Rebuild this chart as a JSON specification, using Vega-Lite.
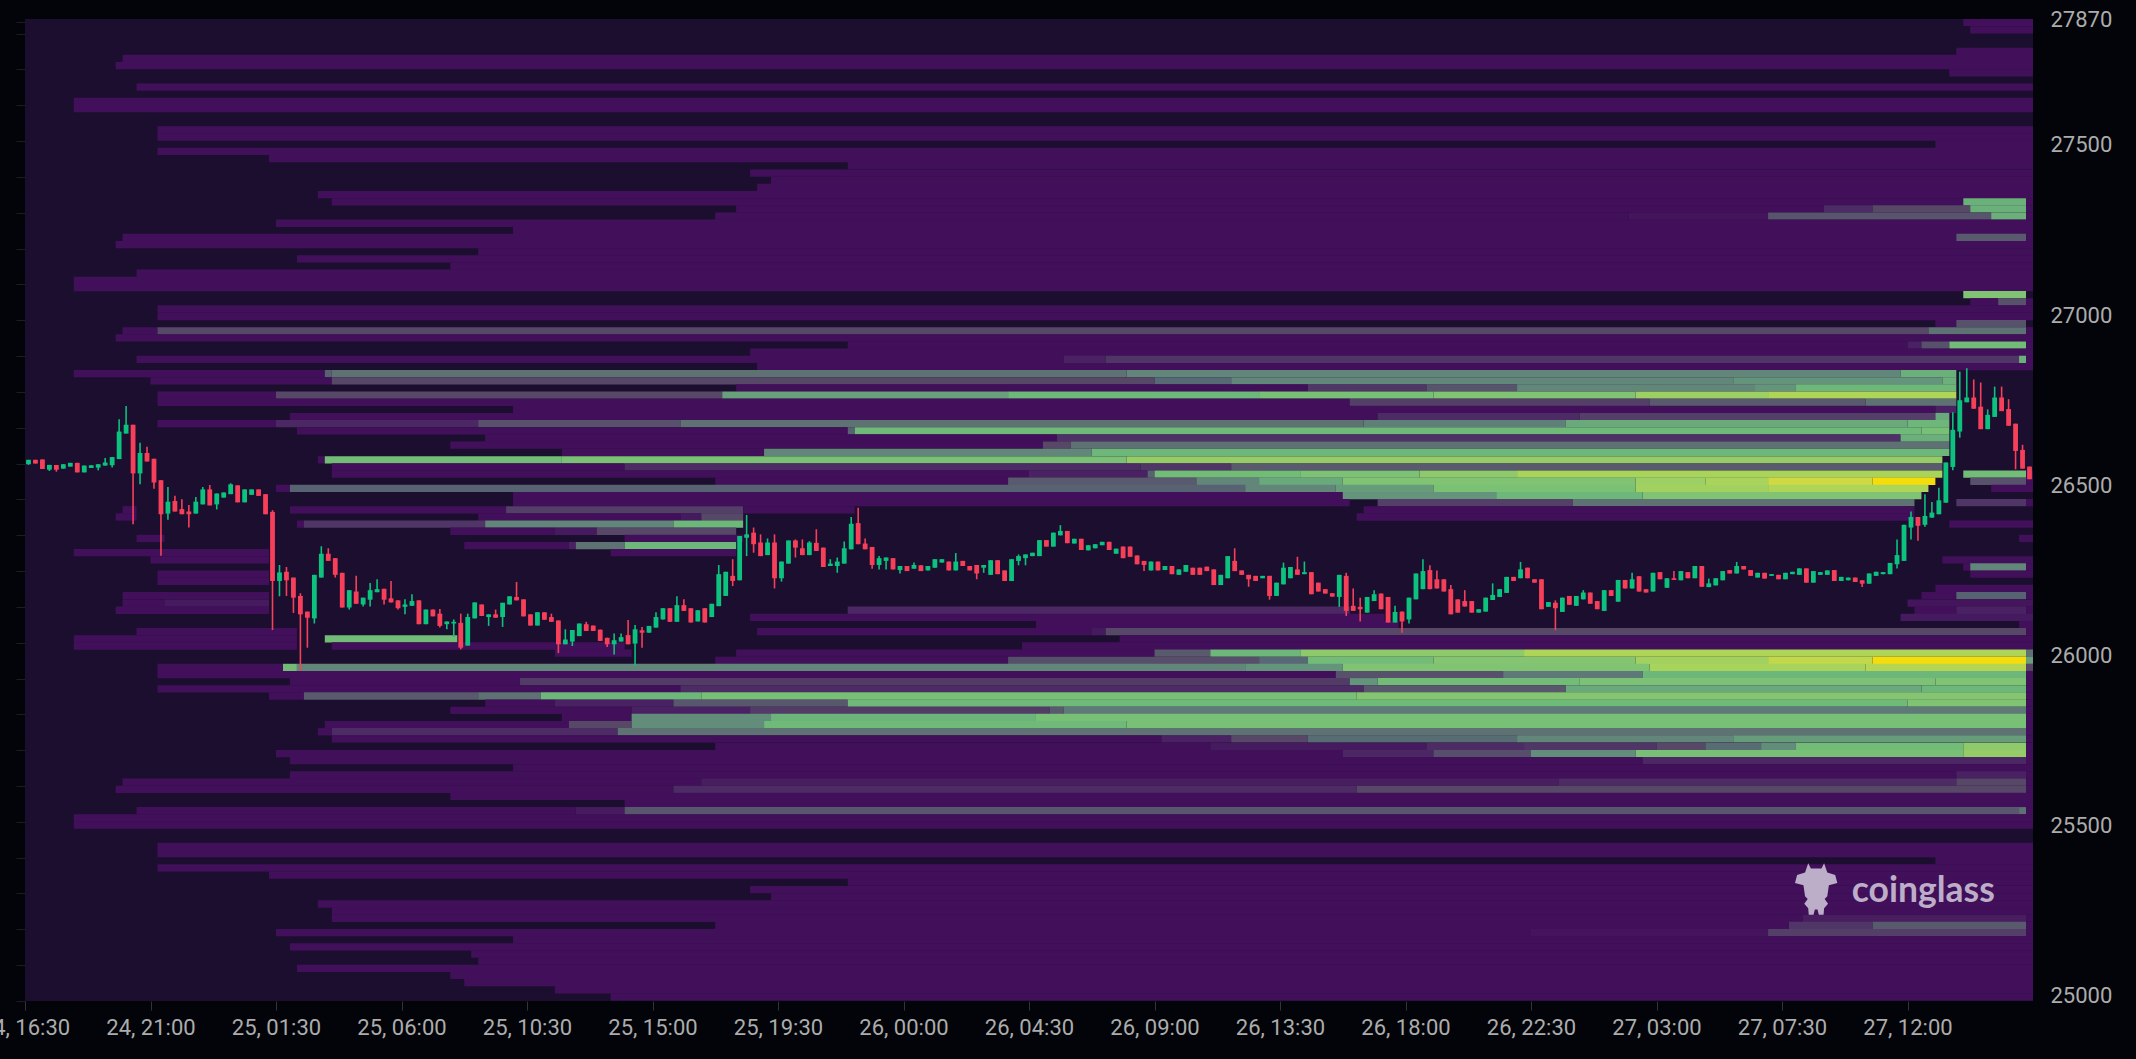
{"$schema":"https://vega.github.io/schema/vega-lite/v6.json","width":2008,"height":982,"autosize":{"type":"none"},"padding":{"left":25,"top":19,"right":103,"bottom":58},"background":"#020409","view":{"fill":"#1c0e2e","stroke":null},
"datasets":{"heat":[
{"p":27860,"a":278,"b":288,"v":10},{"p":27838,"a":279,"b":288,"v":10},{"p":27775,"a":277,"b":288,"v":10},{"p":27754,"a":14,"b":288,"v":10},{"p":27733,"a":13,"b":288,"v":10},{"p":27712,"a":276,"b":288,"v":10},{"p":27670,"a":16,"b":288,"v":10},{"p":27628,"a":7,"b":288,"v":10},{"p":27607,"a":7,"b":288,"v":10},{"p":27544,"a":19,"b":288,"v":10},{"p":27523,"a":19,"b":288,"v":10},{"p":27502,"a":274,"b":288,"v":10},{"p":27481,"a":19,"b":288,"v":10},{"p":27460,"a":35,"b":288,"v":10},{"p":27439,"a":118,"b":288,"v":10},{"p":27417,"a":104,"b":288,"v":10},{"p":27396,"a":107,"b":288,"v":10},{"p":27375,"a":105,"b":288,"v":10},{"p":27354,"a":42,"b":288,"v":10},
{"p":27333,"a":44,"b":278,"v":10},{"p":27333,"a":278,"b":287,"v":50},{"p":27333,"a":287,"b":288,"v":10},
{"p":27312,"a":102,"b":258,"v":10},{"p":27312,"a":258,"b":265,"v":16},{"p":27312,"a":265,"b":279,"v":22},{"p":27312,"a":279,"b":287,"v":50},{"p":27312,"a":287,"b":288,"v":10},
{"p":27291,"a":99,"b":230,"v":10},{"p":27291,"a":230,"b":250,"v":11},{"p":27291,"a":250,"b":282,"v":26},{"p":27291,"a":282,"b":287,"v":50},{"p":27291,"a":287,"b":288,"v":10},
{"p":27270,"a":36,"b":288,"v":10},{"p":27249,"a":70,"b":288,"v":10},
{"p":27228,"a":14,"b":277,"v":10},{"p":27228,"a":277,"b":287,"v":28},{"p":27228,"a":287,"b":288,"v":10},
{"p":27207,"a":13,"b":288,"v":10},{"p":27186,"a":65,"b":288,"v":10},{"p":27165,"a":39,"b":288,"v":10},{"p":27144,"a":61,"b":288,"v":10},{"p":27123,"a":16,"b":288,"v":10},{"p":27102,"a":7,"b":288,"v":10},{"p":27081,"a":7,"b":288,"v":10},
{"p":27060,"a":278,"b":287,"v":62},
{"p":27039,"a":279,"b":283,"v":10},{"p":27039,"a":283,"b":287,"v":25},{"p":27039,"a":287,"b":288,"v":10},
{"p":27018,"a":19,"b":288,"v":10},{"p":26996,"a":19,"b":288,"v":10},
{"p":26975,"a":274,"b":277,"v":10},{"p":26975,"a":277,"b":287,"v":25},
{"p":26954,"a":14,"b":19,"v":10},{"p":26954,"a":19,"b":273,"v":22},{"p":26954,"a":273,"b":287,"v":35},{"p":26954,"a":287,"b":288,"v":10},
{"p":26933,"a":13,"b":288,"v":10},
{"p":26912,"a":118,"b":270,"v":10},{"p":26912,"a":270,"b":272,"v":14},{"p":26912,"a":272,"b":276,"v":25},{"p":26912,"a":276,"b":287,"v":55},{"p":26912,"a":287,"b":288,"v":10},
{"p":26891,"a":104,"b":288,"v":10},
{"p":26870,"a":16,"b":149,"v":10},{"p":26870,"a":149,"b":155,"v":14},{"p":26870,"a":155,"b":286,"v":18},{"p":26870,"a":286,"b":287,"v":50},{"p":26870,"a":287,"b":288,"v":10},
{"p":26849,"a":105,"b":288,"v":10},
{"p":26828,"a":7,"b":43,"v":10},{"p":26828,"a":43,"b":44,"v":30},{"p":26828,"a":44,"b":158,"v":35},{"p":26828,"a":158,"b":269,"v":38},{"p":26828,"a":269,"b":277,"v":50},
{"p":26807,"a":18,"b":44,"v":10},{"p":26807,"a":44,"b":162,"v":22},{"p":26807,"a":162,"b":173,"v":32},{"p":26807,"a":173,"b":245,"v":38},{"p":26807,"a":245,"b":275,"v":42},{"p":26807,"a":275,"b":277,"v":50},
{"p":26786,"a":102,"b":184,"v":10},{"p":26786,"a":184,"b":201,"v":18},{"p":26786,"a":201,"b":214,"v":26},{"p":26786,"a":214,"b":248,"v":38},{"p":26786,"a":248,"b":254,"v":42},{"p":26786,"a":254,"b":277,"v":52},
{"p":26765,"a":19,"b":36,"v":10},{"p":26765,"a":36,"b":100,"v":22},{"p":26765,"a":100,"b":141,"v":45},{"p":26765,"a":141,"b":177,"v":52},{"p":26765,"a":177,"b":202,"v":58},{"p":26765,"a":202,"b":231,"v":62},{"p":26765,"a":231,"b":250,"v":72},{"p":26765,"a":250,"b":277,"v":80},
{"p":26744,"a":19,"b":190,"v":10},{"p":26744,"a":190,"b":233,"v":20},{"p":26744,"a":233,"b":264,"v":28},{"p":26744,"a":264,"b":277,"v":35},
{"p":26723,"a":70,"b":274,"v":10},{"p":26723,"a":274,"b":277,"v":14},
{"p":26702,"a":38,"b":194,"v":10},{"p":26702,"a":194,"b":223,"v":16},{"p":26702,"a":223,"b":274,"v":20},{"p":26702,"a":274,"b":276,"v":48},
{"p":26681,"a":19,"b":36,"v":10},{"p":26681,"a":36,"b":65,"v":15},{"p":26681,"a":65,"b":94,"v":25},{"p":26681,"a":94,"b":192,"v":35},{"p":26681,"a":192,"b":221,"v":37},{"p":26681,"a":221,"b":270,"v":48},{"p":26681,"a":270,"b":276,"v":52},
{"p":26660,"a":39,"b":118,"v":10},{"p":26660,"a":118,"b":119,"v":30},{"p":26660,"a":119,"b":272,"v":54},{"p":26660,"a":272,"b":276,"v":58},
{"p":26639,"a":66,"b":148,"v":10},{"p":26639,"a":148,"b":269,"v":17},{"p":26639,"a":269,"b":276,"v":50},
{"p":26618,"a":61,"b":146,"v":10},{"p":26618,"a":146,"b":150,"v":22},{"p":26618,"a":150,"b":276,"v":35},
{"p":26597,"a":77,"b":106,"v":10},{"p":26597,"a":106,"b":153,"v":38},{"p":26597,"a":153,"b":276,"v":52},
{"p":26575,"a":42,"b":43,"v":10},{"p":26575,"a":43,"b":77,"v":55},{"p":26575,"a":77,"b":158,"v":59},{"p":26575,"a":158,"b":275,"v":70},
{"p":26554,"a":44,"b":86,"v":10},{"p":26554,"a":86,"b":160,"v":16},{"p":26554,"a":160,"b":173,"v":18},{"p":26554,"a":173,"b":275,"v":28},
{"p":26533,"a":44,"b":144,"v":10},{"p":26533,"a":144,"b":161,"v":14},{"p":26533,"a":161,"b":162,"v":30},{"p":26533,"a":162,"b":183,"v":55},{"p":26533,"a":183,"b":200,"v":60},{"p":26533,"a":200,"b":214,"v":68},{"p":26533,"a":214,"b":275,"v":78},{"p":26533,"a":278,"b":287,"v":55},{"p":26533,"a":287,"b":288,"v":10},
{"p":26512,"a":99,"b":141,"v":10},{"p":26512,"a":141,"b":168,"v":28},{"p":26512,"a":168,"b":177,"v":38},{"p":26512,"a":177,"b":189,"v":48},{"p":26512,"a":189,"b":231,"v":62},{"p":26512,"a":231,"b":241,"v":72},{"p":26512,"a":241,"b":250,"v":78},{"p":26512,"a":250,"b":265,"v":88},{"p":26512,"a":265,"b":274,"v":100},{"p":26512,"a":279,"b":287,"v":25},{"p":26512,"a":287,"b":288,"v":10},
{"p":26491,"a":36,"b":38,"v":10},{"p":26491,"a":38,"b":175,"v":30},{"p":26491,"a":175,"b":188,"v":38},{"p":26491,"a":188,"b":202,"v":44},{"p":26491,"a":202,"b":231,"v":59},{"p":26491,"a":231,"b":250,"v":75},{"p":26491,"a":250,"b":273,"v":80},{"p":26491,"a":282,"b":288,"v":10},
{"p":26470,"a":70,"b":189,"v":10},{"p":26470,"a":189,"b":211,"v":42},{"p":26470,"a":211,"b":232,"v":52},{"p":26470,"a":232,"b":272,"v":62},
{"p":26449,"a":70,"b":190,"v":10},{"p":26449,"a":194,"b":222,"v":20},{"p":26449,"a":222,"b":271,"v":35},{"p":26449,"a":277,"b":287,"v":18},{"p":26449,"a":287,"b":288,"v":10},
{"p":26428,"a":14,"b":16,"v":10},{"p":26428,"a":38,"b":69,"v":10},{"p":26428,"a":69,"b":103,"v":20},{"p":26428,"a":103,"b":119,"v":10},{"p":26428,"a":192,"b":271,"v":10},
{"p":26407,"a":13,"b":16,"v":10},{"p":26407,"a":65,"b":94,"v":10},{"p":26407,"a":94,"b":97,"v":12},{"p":26407,"a":97,"b":103,"v":22},{"p":26407,"a":191,"b":271,"v":10},
{"p":26386,"a":39,"b":40,"v":10},{"p":26386,"a":40,"b":66,"v":18},{"p":26386,"a":66,"b":93,"v":38},{"p":26386,"a":93,"b":103,"v":52},{"p":26386,"a":276,"b":288,"v":10},
{"p":26365,"a":61,"b":76,"v":10},{"p":26365,"a":76,"b":82,"v":12},{"p":26365,"a":82,"b":102,"v":22},
{"p":26344,"a":16,"b":20,"v":10},{"p":26344,"a":86,"b":103,"v":10},{"p":26344,"a":286,"b":288,"v":10},
{"p":26323,"a":63,"b":78,"v":10},{"p":26323,"a":78,"b":79,"v":14},{"p":26323,"a":79,"b":86,"v":35},{"p":26323,"a":86,"b":102,"v":52},
{"p":26302,"a":7,"b":35,"v":10},{"p":26302,"a":84,"b":102,"v":10},
{"p":26281,"a":18,"b":35,"v":10},{"p":26281,"a":275,"b":288,"v":10},
{"p":26260,"a":278,"b":279,"v":10},{"p":26260,"a":279,"b":287,"v":38},{"p":26260,"a":287,"b":288,"v":10},
{"p":26239,"a":19,"b":35,"v":10},{"p":26239,"a":279,"b":288,"v":10},
{"p":26218,"a":19,"b":35,"v":10},
{"p":26197,"a":274,"b":288,"v":10},
{"p":26176,"a":14,"b":35,"v":10},{"p":26176,"a":272,"b":277,"v":10},{"p":26176,"a":277,"b":287,"v":30},{"p":26176,"a":287,"b":288,"v":10},
{"p":26154,"a":14,"b":20,"v":10},{"p":26154,"a":20,"b":35,"v":12},{"p":26154,"a":270,"b":288,"v":11},
{"p":26133,"a":13,"b":35,"v":10},{"p":26133,"a":118,"b":190,"v":15},{"p":26133,"a":271,"b":277,"v":10},{"p":26133,"a":277,"b":287,"v":14},{"p":26133,"a":287,"b":288,"v":10},
{"p":26112,"a":104,"b":195,"v":10},{"p":26112,"a":269,"b":288,"v":12},
{"p":26091,"a":145,"b":197,"v":10},{"p":26091,"a":286,"b":288,"v":10},
{"p":26070,"a":16,"b":39,"v":10},{"p":26070,"a":105,"b":153,"v":10},{"p":26070,"a":153,"b":155,"v":12},{"p":26070,"a":155,"b":287,"v":22},{"p":26070,"a":287,"b":288,"v":10},
{"p":26049,"a":7,"b":39,"v":10},{"p":26049,"a":43,"b":62,"v":55},{"p":26049,"a":157,"b":288,"v":10},
{"p":26028,"a":7,"b":39,"v":10},{"p":26028,"a":44,"b":86,"v":10},{"p":26028,"a":143,"b":288,"v":10},
{"p":26007,"a":76,"b":87,"v":10},{"p":26007,"a":102,"b":162,"v":10},{"p":26007,"a":162,"b":170,"v":28},{"p":26007,"a":170,"b":183,"v":52},{"p":26007,"a":183,"b":215,"v":68},{"p":26007,"a":215,"b":287,"v":80},{"p":26007,"a":287,"b":288,"v":35},
{"p":25986,"a":99,"b":141,"v":10},{"p":25986,"a":141,"b":177,"v":24},{"p":25986,"a":177,"b":184,"v":32},{"p":25986,"a":184,"b":202,"v":55},{"p":25986,"a":202,"b":231,"v":65},{"p":25986,"a":231,"b":250,"v":75},{"p":25986,"a":250,"b":265,"v":85},{"p":25986,"a":265,"b":287,"v":100},{"p":25986,"a":287,"b":288,"v":45},
{"p":25965,"a":19,"b":37,"v":10},{"p":25965,"a":37,"b":39,"v":55},{"p":25965,"a":39,"b":175,"v":38},{"p":25965,"a":175,"b":189,"v":42},{"p":25965,"a":189,"b":233,"v":62},{"p":25965,"a":233,"b":264,"v":78},{"p":25965,"a":264,"b":287,"v":82},{"p":25965,"a":287,"b":288,"v":22},
{"p":25944,"a":19,"b":188,"v":10},{"p":25944,"a":188,"b":212,"v":25},{"p":25944,"a":212,"b":232,"v":36},{"p":25944,"a":232,"b":287,"v":52},{"p":25944,"a":287,"b":288,"v":10},
{"p":25923,"a":38,"b":71,"v":10},{"p":25923,"a":71,"b":190,"v":19},{"p":25923,"a":190,"b":194,"v":42},{"p":25923,"a":194,"b":223,"v":55},{"p":25923,"a":223,"b":274,"v":60},{"p":25923,"a":274,"b":287,"v":62},{"p":25923,"a":287,"b":288,"v":10},
{"p":25902,"a":19,"b":94,"v":10},{"p":25902,"a":94,"b":192,"v":16},{"p":25902,"a":192,"b":221,"v":27},{"p":25902,"a":221,"b":272,"v":48},{"p":25902,"a":272,"b":287,"v":52},{"p":25902,"a":287,"b":288,"v":10},
{"p":25881,"a":35,"b":40,"v":10},{"p":25881,"a":40,"b":65,"v":28},{"p":25881,"a":65,"b":74,"v":35},{"p":25881,"a":74,"b":97,"v":52},{"p":25881,"a":97,"b":191,"v":58},{"p":25881,"a":191,"b":287,"v":65},{"p":25881,"a":287,"b":288,"v":10},
{"p":25860,"a":66,"b":76,"v":10},{"p":25860,"a":76,"b":93,"v":14},{"p":25860,"a":93,"b":118,"v":27},{"p":25860,"a":118,"b":270,"v":54},{"p":25860,"a":270,"b":287,"v":62},{"p":25860,"a":287,"b":288,"v":10},
{"p":25839,"a":61,"b":87,"v":10},{"p":25839,"a":87,"b":104,"v":14},{"p":25839,"a":104,"b":147,"v":19},{"p":25839,"a":147,"b":149,"v":28},{"p":25839,"a":149,"b":287,"v":36},{"p":25839,"a":287,"b":288,"v":10},
{"p":25818,"a":77,"b":87,"v":10},{"p":25818,"a":87,"b":107,"v":40},{"p":25818,"a":107,"b":145,"v":51},{"p":25818,"a":145,"b":287,"v":58},{"p":25818,"a":287,"b":288,"v":10},
{"p":25797,"a":43,"b":78,"v":10},{"p":25797,"a":78,"b":87,"v":22},{"p":25797,"a":87,"b":106,"v":40},{"p":25797,"a":106,"b":158,"v":54},{"p":25797,"a":158,"b":287,"v":58},{"p":25797,"a":287,"b":288,"v":10},
{"p":25776,"a":42,"b":44,"v":10},{"p":25776,"a":44,"b":85,"v":16},{"p":25776,"a":85,"b":287,"v":35},{"p":25776,"a":287,"b":288,"v":10},
{"p":25755,"a":44,"b":163,"v":10},{"p":25755,"a":163,"b":173,"v":14},{"p":25755,"a":173,"b":184,"v":22},{"p":25755,"a":184,"b":214,"v":33},{"p":25755,"a":214,"b":245,"v":38},{"p":25755,"a":245,"b":287,"v":44},{"p":25755,"a":287,"b":288,"v":10},
{"p":25733,"a":99,"b":170,"v":10},{"p":25733,"a":170,"b":201,"v":12},{"p":25733,"a":201,"b":215,"v":16},{"p":25733,"a":215,"b":234,"v":18},{"p":25733,"a":234,"b":241,"v":22},{"p":25733,"a":241,"b":249,"v":33},{"p":25733,"a":249,"b":254,"v":40},{"p":25733,"a":254,"b":278,"v":55},{"p":25733,"a":278,"b":287,"v":68},{"p":25733,"a":287,"b":288,"v":10},
{"p":25712,"a":36,"b":189,"v":10},{"p":25712,"a":189,"b":202,"v":15},{"p":25712,"a":202,"b":216,"v":24},{"p":25712,"a":216,"b":231,"v":40},{"p":25712,"a":231,"b":278,"v":58},{"p":25712,"a":278,"b":287,"v":70},{"p":25712,"a":287,"b":288,"v":10},
{"p":25691,"a":38,"b":232,"v":10},{"p":25691,"a":232,"b":287,"v":15},{"p":25691,"a":287,"b":288,"v":10},
{"p":25670,"a":70,"b":288,"v":10},
{"p":25649,"a":38,"b":277,"v":10},{"p":25649,"a":277,"b":287,"v":14},{"p":25649,"a":287,"b":288,"v":10},
{"p":25628,"a":14,"b":97,"v":10},{"p":25628,"a":97,"b":220,"v":13},{"p":25628,"a":220,"b":277,"v":16},{"p":25628,"a":277,"b":287,"v":22},{"p":25628,"a":287,"b":288,"v":10},
{"p":25607,"a":13,"b":93,"v":10},{"p":25607,"a":93,"b":191,"v":16},{"p":25607,"a":191,"b":287,"v":22},{"p":25607,"a":287,"b":288,"v":10},
{"p":25586,"a":61,"b":288,"v":10},{"p":25565,"a":86,"b":288,"v":10},
{"p":25544,"a":16,"b":79,"v":10},{"p":25544,"a":79,"b":86,"v":12},{"p":25544,"a":86,"b":286,"v":27},{"p":25544,"a":286,"b":287,"v":35},{"p":25544,"a":287,"b":288,"v":10},
{"p":25523,"a":7,"b":288,"v":10},{"p":25502,"a":7,"b":288,"v":10},
{"p":25439,"a":19,"b":288,"v":10},{"p":25418,"a":19,"b":288,"v":10},{"p":25397,"a":274,"b":288,"v":10},{"p":25376,"a":19,"b":288,"v":10},{"p":25355,"a":35,"b":288,"v":10},{"p":25334,"a":118,"b":288,"v":10},{"p":25312,"a":104,"b":288,"v":10},{"p":25291,"a":107,"b":288,"v":10},{"p":25270,"a":42,"b":288,"v":10},{"p":25249,"a":44,"b":288,"v":10},
{"p":25228,"a":44,"b":255,"v":10},{"p":25228,"a":255,"b":287,"v":13},{"p":25228,"a":287,"b":288,"v":10},
{"p":25207,"a":99,"b":253,"v":10},{"p":25207,"a":253,"b":265,"v":18},{"p":25207,"a":265,"b":287,"v":28},{"p":25207,"a":287,"b":288,"v":10},
{"p":25186,"a":36,"b":216,"v":10},{"p":25186,"a":216,"b":250,"v":11},{"p":25186,"a":250,"b":287,"v":20},{"p":25186,"a":287,"b":288,"v":10},
{"p":25165,"a":70,"b":288,"v":10},{"p":25144,"a":38,"b":288,"v":10},{"p":25123,"a":64,"b":288,"v":10},{"p":25102,"a":65,"b":288,"v":10},{"p":25081,"a":39,"b":288,"v":10},{"p":25060,"a":61,"b":288,"v":10},{"p":25039,"a":63,"b":288,"v":10},{"p":25018,"a":76,"b":288,"v":10},{"p":24997,"a":84,"b":288,"v":10}
],
"candles":[
{"c":0.5,"o":26562,"e":26575,"h":26575,"l":26560},{"c":1.5,"o":26575,"e":26564,"h":26575,"l":26564},{"c":2.5,"o":26576,"e":26548,"h":26576,"l":26548},{"c":3.5,"o":26546,"e":26560,"h":26560,"l":26542},{"c":4.5,"o":26560,"e":26546,"h":26560,"l":26540},{"c":5.5,"o":26549,"e":26562,"h":26562,"l":26549},{"c":6.5,"o":26555,"e":26566,"h":26566,"l":26555},{"c":7.5,"o":26566,"e":26538,"h":26566,"l":26538},{"c":8.5,"o":26538,"e":26558,"h":26558,"l":26538},{"c":9.5,"o":26551,"e":26559,"h":26559,"l":26551},
{"c":10.5,"o":26552,"e":26562,"h":26562,"l":26544},{"c":11.5,"o":26558,"e":26567,"h":26580,"l":26558},{"c":12.5,"o":26559,"e":26583,"h":26583,"l":26552},{"c":13.5,"o":26577,"e":26658,"h":26694,"l":26577},{"c":14.5,"o":26652,"e":26678,"h":26733,"l":26652},{"c":15.5,"o":26678,"e":26535,"h":26678,"l":26386},{"c":16.5,"o":26535,"e":26595,"h":26625,"l":26503},{"c":17.5,"o":26595,"e":26570,"h":26613,"l":26570},{"c":18.5,"o":26578,"e":26508,"h":26578,"l":26490},{"c":19.5,"o":26515,"e":26415,"h":26515,"l":26293},
{"c":20.5,"o":26417,"e":26452,"h":26495,"l":26399},{"c":21.5,"o":26454,"e":26423,"h":26469,"l":26423},{"c":22.5,"o":26430,"e":26415,"h":26459,"l":26415},{"c":23.5,"o":26423,"e":26415,"h":26442,"l":26376},{"c":24.5,"o":26417,"e":26452,"h":26466,"l":26417},{"c":25.5,"o":26444,"e":26488,"h":26495,"l":26444},{"c":26.5,"o":26488,"e":26441,"h":26501,"l":26441},{"c":27.5,"o":26444,"e":26476,"h":26476,"l":26429},{"c":28.5,"o":26464,"e":26479,"h":26479,"l":26464},{"c":29.5,"o":26474,"e":26503,"h":26506,"l":26474},
{"c":30.5,"o":26500,"e":26450,"h":26500,"l":26450},{"c":31.5,"o":26450,"e":26488,"h":26488,"l":26450},{"c":32.5,"o":26472,"e":26488,"h":26488,"l":26472},{"c":33.5,"o":26488,"e":26469,"h":26488,"l":26469},{"c":34.5,"o":26474,"e":26415,"h":26474,"l":26415},{"c":35.5,"o":26422,"e":26219,"h":26427,"l":26075},{"c":36.5,"o":26219,"e":26244,"h":26266,"l":26174},{"c":37.5,"o":26246,"e":26221,"h":26260,"l":26175},{"c":38.5,"o":26229,"e":26170,"h":26229,"l":26125},{"c":39.5,"o":26175,"e":26121,"h":26183,"l":25956},
{"c":40.5,"o":26129,"e":26111,"h":26129,"l":26023},{"c":41.5,"o":26109,"e":26237,"h":26237,"l":26094},{"c":42.5,"o":26229,"e":26299,"h":26321,"l":26229},{"c":43.5,"o":26299,"e":26278,"h":26315,"l":26278},{"c":44.5,"o":26286,"e":26237,"h":26286,"l":26229},{"c":45.5,"o":26243,"e":26141,"h":26243,"l":26141},{"c":46.5,"o":26141,"e":26192,"h":26192,"l":26135},{"c":47.5,"o":26188,"e":26152,"h":26234,"l":26152},{"c":48.5,"o":26150,"e":26170,"h":26170,"l":26144},{"c":49.5,"o":26164,"e":26192,"h":26213,"l":26144},
{"c":50.5,"o":26186,"e":26195,"h":26224,"l":26186},{"c":51.5,"o":26196,"e":26164,"h":26196,"l":26150},{"c":52.5,"o":26168,"e":26156,"h":26219,"l":26156},{"c":53.5,"o":26162,"e":26139,"h":26162,"l":26135},{"c":54.5,"o":26143,"e":26150,"h":26165,"l":26121},{"c":55.5,"o":26146,"e":26160,"h":26180,"l":26146},{"c":56.5,"o":26162,"e":26092,"h":26162,"l":26092},{"c":57.5,"o":26092,"e":26135,"h":26135,"l":26092},{"c":58.5,"o":26135,"e":26115,"h":26135,"l":26115},{"c":59.5,"o":26123,"e":26087,"h":26137,"l":26082},
{"c":60.5,"o":26092,"e":26100,"h":26100,"l":26077},{"c":61.5,"o":26094,"e":26099,"h":26106,"l":26054},{"c":62.5,"o":26096,"e":26023,"h":26123,"l":26018},{"c":63.5,"o":26029,"e":26113,"h":26123,"l":26029},{"c":64.5,"o":26109,"e":26156,"h":26156,"l":26109},{"c":65.5,"o":26150,"e":26116,"h":26150,"l":26116},{"c":66.5,"o":26113,"e":26121,"h":26121,"l":26087},{"c":67.5,"o":26121,"e":26111,"h":26135,"l":26111},{"c":68.5,"o":26113,"e":26155,"h":26155,"l":26084},{"c":69.5,"o":26150,"e":26174,"h":26174,"l":26150},
{"c":70.5,"o":26172,"e":26162,"h":26216,"l":26162},{"c":71.5,"o":26165,"e":26115,"h":26165,"l":26115},{"c":72.5,"o":26121,"e":26088,"h":26121,"l":26088},{"c":73.5,"o":26088,"e":26127,"h":26127,"l":26088},{"c":74.5,"o":26127,"e":26105,"h":26127,"l":26105},{"c":75.5,"o":26113,"e":26099,"h":26123,"l":26099},{"c":76.5,"o":26103,"e":26033,"h":26103,"l":26007},{"c":77.5,"o":26033,"e":26047,"h":26077,"l":26033},{"c":78.5,"o":26041,"e":26075,"h":26075,"l":26028},{"c":79.5,"o":26057,"e":26094,"h":26094,"l":26057},
{"c":80.5,"o":26092,"e":26072,"h":26099,"l":26072},{"c":81.5,"o":26088,"e":26072,"h":26088,"l":26072},{"c":82.5,"o":26076,"e":26043,"h":26076,"l":26043},{"c":83.5,"o":26052,"e":26033,"h":26052,"l":26025},{"c":84.5,"o":26033,"e":26045,"h":26065,"l":26003},{"c":85.5,"o":26041,"e":26054,"h":26065,"l":26041},{"c":86.5,"o":26060,"e":26033,"h":26104,"l":26033},{"c":87.5,"o":26035,"e":26077,"h":26090,"l":25969},{"c":88.5,"o":26074,"e":26067,"h":26084,"l":26023},{"c":89.5,"o":26067,"e":26087,"h":26087,"l":26067},
{"c":90.5,"o":26082,"e":26113,"h":26127,"l":26082},{"c":91.5,"o":26106,"e":26139,"h":26139,"l":26106},{"c":92.5,"o":26139,"e":26099,"h":26139,"l":26099},{"c":93.5,"o":26099,"e":26148,"h":26174,"l":26099},{"c":94.5,"o":26148,"e":26131,"h":26165,"l":26131},{"c":95.5,"o":26139,"e":26097,"h":26139,"l":26097},{"c":96.5,"o":26100,"e":26133,"h":26133,"l":26100},{"c":97.5,"o":26139,"e":26097,"h":26139,"l":26097},{"c":98.5,"o":26113,"e":26152,"h":26152,"l":26113},{"c":99.5,"o":26145,"e":26239,"h":26266,"l":26145},
{"c":100.5,"o":26175,"e":26246,"h":26246,"l":26175},{"c":101.5,"o":26234,"e":26219,"h":26283,"l":26204},{"c":102.5,"o":26221,"e":26351,"h":26351,"l":26221},{"c":103.5,"o":26346,"e":26356,"h":26413,"l":26292},{"c":104.5,"o":26361,"e":26327,"h":26376,"l":26302},{"c":105.5,"o":26332,"e":26292,"h":26356,"l":26292},{"c":106.5,"o":26295,"e":26332,"h":26344,"l":26295},{"c":107.5,"o":26332,"e":26227,"h":26356,"l":26197},{"c":108.5,"o":26227,"e":26276,"h":26276,"l":26217},{"c":109.5,"o":26270,"e":26338,"h":26338,"l":26270},
{"c":110.5,"o":26338,"e":26317,"h":26341,"l":26288},{"c":111.5,"o":26315,"e":26295,"h":26341,"l":26295},{"c":112.5,"o":26295,"e":26332,"h":26336,"l":26295},{"c":113.5,"o":26331,"e":26307,"h":26371,"l":26307},{"c":114.5,"o":26317,"e":26260,"h":26317,"l":26260},{"c":115.5,"o":26263,"e":26270,"h":26283,"l":26263},{"c":116.5,"o":26263,"e":26276,"h":26288,"l":26243},{"c":117.5,"o":26270,"e":26315,"h":26335,"l":26270},{"c":118.5,"o":26312,"e":26387,"h":26407,"l":26312},{"c":119.5,"o":26389,"e":26327,"h":26434,"l":26327},
{"c":120.5,"o":26329,"e":26312,"h":26344,"l":26312},{"c":121.5,"o":26319,"e":26266,"h":26319,"l":26255},{"c":122.5,"o":26266,"e":26286,"h":26292,"l":26253},{"c":123.5,"o":26278,"e":26288,"h":26288,"l":26253},{"c":124.5,"o":26286,"e":26253,"h":26286,"l":26253},{"c":125.5,"o":26251,"e":26263,"h":26263,"l":26241},{"c":126.5,"o":26263,"e":26248,"h":26263,"l":26248},{"c":127.5,"o":26255,"e":26266,"h":26273,"l":26255},{"c":128.5,"o":26265,"e":26248,"h":26265,"l":26248},{"c":129.5,"o":26250,"e":26263,"h":26263,"l":26250},
{"c":130.5,"o":26258,"e":26283,"h":26283,"l":26258},{"c":131.5,"o":26273,"e":26283,"h":26283,"l":26273},{"c":132.5,"o":26276,"e":26250,"h":26276,"l":26250},{"c":133.5,"o":26250,"e":26276,"h":26301,"l":26250},{"c":134.5,"o":26278,"e":26263,"h":26278,"l":26263},{"c":135.5,"o":26263,"e":26250,"h":26263,"l":26250},{"c":136.5,"o":26266,"e":26241,"h":26266,"l":26224},{"c":137.5,"o":26258,"e":26266,"h":26266,"l":26243},{"c":138.5,"o":26237,"e":26280,"h":26280,"l":26237},{"c":139.5,"o":26280,"e":26239,"h":26280,"l":26239},
{"c":140.5,"o":26250,"e":26219,"h":26250,"l":26219},{"c":141.5,"o":26219,"e":26283,"h":26283,"l":26219},{"c":142.5,"o":26278,"e":26292,"h":26297,"l":26265},{"c":143.5,"o":26286,"e":26297,"h":26297,"l":26265},{"c":144.5,"o":26292,"e":26302,"h":26302,"l":26292},{"c":145.5,"o":26292,"e":26339,"h":26339,"l":26292},{"c":146.5,"o":26339,"e":26320,"h":26339,"l":26320},{"c":147.5,"o":26320,"e":26361,"h":26361,"l":26320},{"c":148.5,"o":26353,"e":26366,"h":26383,"l":26353},{"c":149.5,"o":26366,"e":26330,"h":26366,"l":26330},
{"c":150.5,"o":26329,"e":26343,"h":26343,"l":26329},{"c":151.5,"o":26343,"e":26310,"h":26343,"l":26310},{"c":152.5,"o":26309,"e":26324,"h":26324,"l":26309},{"c":153.5,"o":26315,"e":26327,"h":26327,"l":26315},{"c":154.5,"o":26324,"e":26334,"h":26334,"l":26324},{"c":155.5,"o":26334,"e":26310,"h":26334,"l":26310},{"c":156.5,"o":26299,"e":26314,"h":26314,"l":26299},{"c":157.5,"o":26320,"e":26286,"h":26320,"l":26286},{"c":158.5,"o":26320,"e":26290,"h":26320,"l":26290},{"c":159.5,"o":26294,"e":26268,"h":26294,"l":26268},
{"c":160.5,"o":26278,"e":26266,"h":26278,"l":26248},{"c":161.5,"o":26250,"e":26276,"h":26276,"l":26250},{"c":162.5,"o":26276,"e":26250,"h":26276,"l":26250},{"c":163.5,"o":26251,"e":26263,"h":26263,"l":26251},{"c":164.5,"o":26263,"e":26239,"h":26263,"l":26239},{"c":165.5,"o":26237,"e":26253,"h":26253,"l":26237},{"c":166.5,"o":26246,"e":26266,"h":26266,"l":26246},{"c":167.5,"o":26258,"e":26237,"h":26258,"l":26237},{"c":168.5,"o":26258,"e":26237,"h":26258,"l":26237},{"c":169.5,"o":26261,"e":26248,"h":26261,"l":26248},
{"c":170.5,"o":26253,"e":26207,"h":26253,"l":26207},{"c":171.5,"o":26207,"e":26237,"h":26237,"l":26207},{"c":172.5,"o":26227,"e":26292,"h":26292,"l":26227},{"c":173.5,"o":26278,"e":26248,"h":26315,"l":26248},{"c":174.5,"o":26250,"e":26237,"h":26250,"l":26237},{"c":175.5,"o":26237,"e":26224,"h":26237,"l":26202},{"c":176.5,"o":26234,"e":26219,"h":26234,"l":26219},{"c":177.5,"o":26227,"e":26234,"h":26234,"l":26227},{"c":178.5,"o":26234,"e":26175,"h":26234,"l":26164},{"c":179.5,"o":26175,"e":26214,"h":26214,"l":26175},
{"c":180.5,"o":26209,"e":26258,"h":26273,"l":26209},{"c":181.5,"o":26227,"e":26260,"h":26260,"l":26227},{"c":182.5,"o":26253,"e":26237,"h":26290,"l":26237},{"c":183.5,"o":26239,"e":26245,"h":26276,"l":26239},{"c":184.5,"o":26245,"e":26180,"h":26245,"l":26180},{"c":185.5,"o":26214,"e":26188,"h":26214,"l":26188},{"c":186.5,"o":26195,"e":26182,"h":26195,"l":26182},{"c":187.5,"o":26183,"e":26173,"h":26183,"l":26173},{"c":188.5,"o":26172,"e":26237,"h":26237,"l":26143},{"c":189.5,"o":26234,"e":26131,"h":26243,"l":26116},
{"c":190.5,"o":26146,"e":26131,"h":26197,"l":26131},{"c":191.5,"o":26143,"e":26136,"h":26170,"l":26100},{"c":192.5,"o":26126,"e":26172,"h":26172,"l":26126},{"c":193.5,"o":26160,"e":26180,"h":26192,"l":26160},{"c":194.5,"o":26182,"e":26136,"h":26182,"l":26136},{"c":195.5,"o":26172,"e":26097,"h":26172,"l":26097},{"c":196.5,"o":26097,"e":26128,"h":26146,"l":26097},{"c":197.5,"o":26129,"e":26100,"h":26129,"l":26067},{"c":198.5,"o":26106,"e":26170,"h":26170,"l":26094},{"c":199.5,"o":26165,"e":26241,"h":26241,"l":26165},
{"c":200.5,"o":26195,"e":26248,"h":26283,"l":26195},{"c":201.5,"o":26251,"e":26195,"h":26265,"l":26195},{"c":202.5,"o":26224,"e":26197,"h":26250,"l":26197},{"c":203.5,"o":26224,"e":26188,"h":26224,"l":26188},{"c":204.5,"o":26195,"e":26121,"h":26207,"l":26121},{"c":205.5,"o":26165,"e":26126,"h":26165,"l":26126},{"c":206.5,"o":26160,"e":26144,"h":26192,"l":26144},{"c":207.5,"o":26160,"e":26126,"h":26160,"l":26126},{"c":208.5,"o":26126,"e":26136,"h":26136,"l":26126},{"c":209.5,"o":26129,"e":26170,"h":26170,"l":26129},
{"c":210.5,"o":26163,"e":26178,"h":26212,"l":26163},{"c":211.5,"o":26172,"e":26195,"h":26195,"l":26172},{"c":212.5,"o":26184,"e":26231,"h":26231,"l":26184},{"c":213.5,"o":26231,"e":26219,"h":26231,"l":26219},{"c":214.5,"o":26227,"e":26253,"h":26275,"l":26227},{"c":215.5,"o":26258,"e":26227,"h":26258,"l":26227},{"c":216.5,"o":26224,"e":26214,"h":26224,"l":26214},{"c":217.5,"o":26224,"e":26136,"h":26224,"l":26136},{"c":218.5,"o":26143,"e":26157,"h":26157,"l":26143},{"c":219.5,"o":26155,"e":26139,"h":26162,"l":26074},
{"c":220.5,"o":26128,"e":26170,"h":26170,"l":26128},{"c":221.5,"o":26175,"e":26149,"h":26175,"l":26149},{"c":222.5,"o":26146,"e":26175,"h":26175,"l":26146},{"c":223.5,"o":26165,"e":26185,"h":26192,"l":26165},{"c":224.5,"o":26185,"e":26152,"h":26185,"l":26152},{"c":225.5,"o":26160,"e":26136,"h":26160,"l":26136},{"c":226.5,"o":26131,"e":26192,"h":26192,"l":26131},{"c":227.5,"o":26192,"e":26175,"h":26192,"l":26175},{"c":228.5,"o":26158,"e":26222,"h":26222,"l":26158},{"c":229.5,"o":26222,"e":26197,"h":26222,"l":26197},
{"c":230.5,"o":26197,"e":26224,"h":26243,"l":26197},{"c":231.5,"o":26233,"e":26188,"h":26233,"l":26188},{"c":232.5,"o":26195,"e":26185,"h":26195,"l":26185},{"c":233.5,"o":26188,"e":26243,"h":26243,"l":26188},{"c":234.5,"o":26245,"e":26224,"h":26245,"l":26224},{"c":235.5,"o":26199,"e":26227,"h":26227,"l":26199},{"c":236.5,"o":26227,"e":26222,"h":26248,"l":26222},{"c":237.5,"o":26221,"e":26248,"h":26248,"l":26221},{"c":238.5,"o":26245,"e":26227,"h":26245,"l":26227},{"c":239.5,"o":26227,"e":26263,"h":26263,"l":26227},
{"c":240.5,"o":26263,"e":26202,"h":26263,"l":26202},{"c":241.5,"o":26201,"e":26212,"h":26226,"l":26201},{"c":242.5,"o":26206,"e":26227,"h":26227,"l":26206},{"c":243.5,"o":26221,"e":26248,"h":26248,"l":26221},{"c":244.5,"o":26251,"e":26241,"h":26251,"l":26241},{"c":245.5,"o":26241,"e":26263,"h":26275,"l":26241},{"c":246.5,"o":26263,"e":26253,"h":26263,"l":26253},{"c":247.5,"o":26251,"e":26234,"h":26251,"l":26234},{"c":248.5,"o":26229,"e":26243,"h":26243,"l":26229},{"c":249.5,"o":26243,"e":26226,"h":26243,"l":26226},
{"c":250.5,"o":26234,"e":26239,"h":26239,"l":26234},{"c":251.5,"o":26237,"e":26224,"h":26237,"l":26224},{"c":252.5,"o":26224,"e":26243,"h":26243,"l":26224},{"c":253.5,"o":26239,"e":26246,"h":26246,"l":26239},{"c":254.5,"o":26237,"e":26256,"h":26256,"l":26237},{"c":255.5,"o":26256,"e":26214,"h":26256,"l":26214},{"c":256.5,"o":26214,"e":26248,"h":26248,"l":26214},{"c":257.5,"o":26237,"e":26245,"h":26245,"l":26237},{"c":258.5,"o":26237,"e":26250,"h":26250,"l":26237},{"c":259.5,"o":26251,"e":26219,"h":26251,"l":26219},
{"c":260.5,"o":26219,"e":26231,"h":26231,"l":26219},{"c":261.5,"o":26221,"e":26229,"h":26229,"l":26221},{"c":262.5,"o":26229,"e":26216,"h":26229,"l":26216},{"c":263.5,"o":26221,"e":26211,"h":26221,"l":26201},{"c":264.5,"o":26211,"e":26241,"h":26241,"l":26211},{"c":265.5,"o":26234,"e":26246,"h":26246,"l":26234},{"c":266.5,"o":26239,"e":26245,"h":26245,"l":26239},{"c":267.5,"o":26239,"e":26272,"h":26272,"l":26239},{"c":268.5,"o":26268,"e":26295,"h":26341,"l":26256},{"c":269.5,"o":26278,"e":26384,"h":26384,"l":26278},
{"c":270.5,"o":26376,"e":26407,"h":26423,"l":26341},{"c":271.5,"o":26407,"e":26381,"h":26407,"l":26337},{"c":272.5,"o":26384,"e":26410,"h":26474,"l":26378},{"c":273.5,"o":26405,"e":26420,"h":26451,"l":26405},{"c":274.5,"o":26415,"e":26456,"h":26493,"l":26415},{"c":275.5,"o":26449,"e":26567,"h":26567,"l":26449},{"c":276.5,"o":26554,"e":26663,"h":26715,"l":26544},{"c":277.5,"o":26658,"e":26750,"h":26834,"l":26640},{"c":278.5,"o":26744,"e":26758,"h":26844,"l":26744},{"c":279.5,"o":26758,"e":26725,"h":26811,"l":26725},
{"c":280.5,"o":26731,"e":26665,"h":26802,"l":26665},{"c":281.5,"o":26665,"e":26707,"h":26723,"l":26665},{"c":282.5,"o":26701,"e":26758,"h":26790,"l":26701},{"c":283.5,"o":26758,"e":26718,"h":26790,"l":26718},{"c":284.5,"o":26724,"e":26675,"h":26753,"l":26675},{"c":285.5,"o":26681,"e":26601,"h":26681,"l":26547},{"c":286.5,"o":26604,"e":26549,"h":26619,"l":26549},{"c":287.5,"o":26555,"e":26518,"h":26555,"l":26518}
],
"brand":[{"t":"coinglass","c":262,"p":25309}],
"logo":[{"c":256.9,"p":25316}]},
"layer":[
{"data":{"name":"heat"},"mark":{"type":"rect","height":7.3,"clip":true},"encoding":{
"x":{"field":"a","type":"quantitative","scale":{"domain":[0,288],"nice":false,"zero":false},"axis":{"values":[0,18,36,54,72,90,108,126,144,162,180,198,216,234,252,270],"title":null,"grid":false,"domain":false,"tickColor":"#33333a","tickSize":9,"labelColor":"#acacac","labelFont":"Roboto","labelFontSize":22,"labelPadding":7,"labelExpr":"utcFormat(datum.value*900000+1695573000000,'%d, %H:%M')","labelOverlap":false,"labelBound":false,"labelFlush":false}},
"x2":{"field":"b"},
"y":{"field":"p","type":"quantitative","scale":{"domain":[24985,27870],"nice":false,"zero":false},"axis":{"orient":"right","values":[25000,25500,26000,26500,27000,27500,27870],"title":null,"grid":false,"domain":false,"ticks":false,"labelColor":"#acacac","labelFont":"Roboto","labelFontSize":22,"labelPadding":17,"labelOverlap":false,"format":"d","labelBound":false,"labelFlush":false}},
"color":{"field":"v","type":"quantitative","legend":null,"scale":{"domain":[10,14,22,28,35,38,45,52,58,65,72,80,88,100],"range":["#42105a","#4a2263","#574868","#5a5a6e","#5e7273","#62867a","#699f7a","#6db77a","#78c076","#85c571","#9ccf64","#aed558","#cfd943","#f5dd0c"]}}}},
{"data":{"name":"candles"},"mark":{"type":"rule","strokeWidth":1.6},"encoding":{
"x":{"field":"c","type":"quantitative"},
"y":{"field":"l","type":"quantitative","axis":{"orient":"left","values":[24985,25090,25196,25301,25406,25511,25617,25722,25827,25932,26038,26143,26248,26353,26459,26564,26669,26774,26880,26985,27090,27195,27301,27406,27511,27616,27722,27827,27860],"title":null,"grid":false,"domain":false,"labels":false,"tickColor":"#1c1c22","tickSize":9}},
"y2":{"field":"h"},
"color":{"condition":{"test":"datum.e>=datum.o","value":"#0cc27e"},"value":"#f6405a"}}},
{"data":{"name":"candles"},"mark":{"type":"rect","width":4.8},"encoding":{
"x":{"field":"c","type":"quantitative"},
"y":{"field":"o","type":"quantitative","axis":null},
"y2":{"field":"e"},
"color":{"condition":{"test":"datum.e>=datum.o","value":"#0cc27e"},"value":"#f6405a"}}},
{"data":{"name":"brand"},"mark":{"type":"text","font":"Lato","fontSize":35.5,"fontWeight":"bold","color":"#bcaec9","align":"left","baseline":"middle"},"encoding":{"x":{"field":"c","type":"quantitative"},"y":{"field":"p","type":"quantitative","axis":null},"text":{"field":"t"}}},
{"data":{"name":"logo"},"mark":{"type":"point","filled":true,"opacity":1,"color":"#bcaec9","size":2800,"shape":"M-0.3,-0.95 L-0.2,-0.75 L0.2,-0.75 L0.3,-0.95 L0.42,-0.6 L0.72,-0.5 L0.8,-0.2 L0.48,-0.12 L0.42,0.3 L0.32,0.4 L0.45,0.58 L0.3,0.75 L0.28,1 L0.1,1 L0.05,0.8 L-0.05,0.8 L-0.1,1 L-0.28,1 L-0.3,0.75 L-0.45,0.58 L-0.32,0.4 L-0.42,0.3 L-0.48,-0.12 L-0.8,-0.2 L-0.72,-0.5 L-0.42,-0.6 Z"},"encoding":{"x":{"field":"c","type":"quantitative"},"y":{"field":"p","type":"quantitative","axis":null}}}
],
"resolve":{"axis":{"y":"independent"}}}
